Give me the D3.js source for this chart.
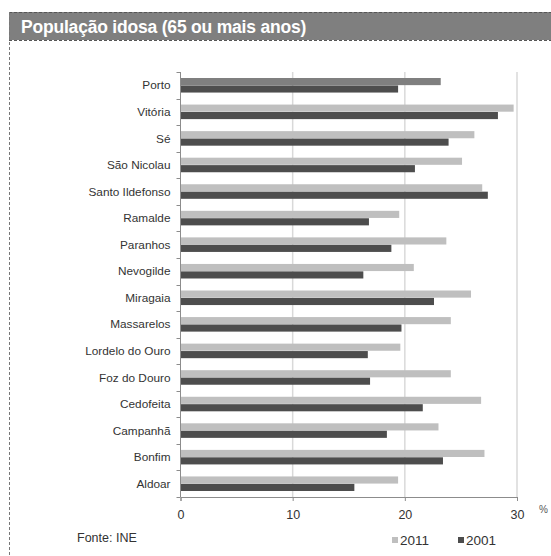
<!DOCTYPE html>
<html><head><meta charset="utf-8">
<script src="https://cdn.jsdelivr.net/npm/d3@7"></script>
<style>body{margin:0;background:#fff}svg{display:block}</style>
</head><body><svg id="c" width="551" height="556"></svg>
<script>
const categories = ["Porto","Vitória","Sé","São Nicolau","Santo Ildefonso","Ramalde","Paranhos","Nevogilde","Miragaia","Massarelos","Lordelo do Ouro","Foz do Douro","Cedofeita","Campanhã","Bonfim","Aldoar"];
const values2011 = [23.2,29.7,26.2,25.1,26.9,19.5,23.7,20.8,25.9,24.1,19.6,24.1,26.8,23.0,27.1,19.4];
const values2001 = [19.4,28.3,23.9,20.9,27.4,16.8,18.8,16.3,22.6,19.7,16.7,16.9,21.6,18.4,23.4,15.5];
const seriesNames = ["2011","2001"];
const xTicks = [0,10,20,30];

const svg = d3.select("#c");
const font = "'Liberation Sans', Arial, sans-serif";
const m = {left:180.5, right:517, top:72, bottom:497};

// frame & title bar
svg.append("rect").attr("x",9).attr("y",12).attr("width",560).attr("height",28).attr("fill","#7f7f7f");
svg.append("line").attr("x1",9).attr("x2",551).attr("y1",12.5).attr("y2",12.5).attr("stroke","#555").attr("stroke-dasharray","3,2");
svg.append("line").attr("x1",9).attr("x2",551).attr("y1",40.5).attr("y2",40.5).attr("stroke","#555").attr("stroke-dasharray","3,2");
svg.append("line").attr("x1",9.5).attr("x2",9.5).attr("y1",12).attr("y2",556).attr("stroke","#777").attr("stroke-dasharray","3,2");
svg.append("text").attr("x",21).attr("y",32.5).attr("fill","#fff").attr("font-family",font).attr("font-size",17.5).attr("font-weight","bold").attr("letter-spacing","-0.2").text("População idosa (65 ou mais anos)");

const x = d3.scaleLinear().domain([0,30]).range([m.left,m.right]);
const y = d3.scaleBand().domain(categories).range([m.top,m.bottom]).paddingInner(0.43).paddingOuter(0.215);
const ySub = d3.scaleBand().domain(seriesNames).range([0,y.bandwidth()]).padding(0.04);

// gridlines
svg.append("g").selectAll("line").data(xTicks.filter(d=>d>0)).join("line")
  .attr("x1",d=>x(d)).attr("x2",d=>x(d)).attr("y1",m.top).attr("y2",m.bottom)
  .attr("stroke","#d9d9d9").attr("stroke-width",1.5);

const color = (s,i) => s==="2001" ? "#4d4d4d" : (i===0 ? "#7f7f7f" : "#bfbfbf");
const data = categories.map((c,i)=>({c,i,v:{"2011":values2011[i],"2001":values2001[i]}}));
const g = svg.append("g");
seriesNames.forEach(s=>{
  g.selectAll(null).data(data).join("rect")
    .attr("x",x(0)).attr("y",d=>y(d.c)+ySub(s)).attr("height",ySub.bandwidth())
    .attr("width",d=>x(d.v[s])-x(0)).attr("fill",d=>color(s,d.i));
});

// y axis
const yAxis = d3.scaleBand().domain(categories).range([m.top,m.bottom]);
const ya = svg.append("g").attr("transform",`translate(${m.left},0)`);
ya.append("line").attr("x1",0).attr("x2",0).attr("y1",m.top).attr("y2",m.bottom).attr("stroke","#8c8c8c");
ya.selectAll("line.t").data(categories.concat(["__end"])).join("line").attr("class","t")
  .attr("x1",-4).attr("x2",0)
  .attr("y1",(d,i)=>Math.round(m.top+i*yAxis.step())+0.5).attr("y2",(d,i)=>Math.round(m.top+i*yAxis.step())+0.5)
  .attr("stroke","#8c8c8c");
ya.selectAll("text").data(categories).join("text")
  .attr("x",-10).attr("y",d=>yAxis(d)+yAxis.bandwidth()/2).attr("dy","0.35em")
  .attr("text-anchor","end").attr("font-family",font).attr("font-size",11.8).attr("fill","#333").text(d=>d);

// x axis
const xa = svg.append("g").attr("transform",`translate(0,${m.bottom})`)
  .call(d3.axisBottom(x).tickValues(xTicks).tickSize(4).tickPadding(9).tickFormat(d3.format("d")));
xa.select(".domain").attr("stroke","#8c8c8c");
xa.selectAll(".tick line").attr("stroke","#8c8c8c");
xa.selectAll("text").attr("font-family",font).attr("font-size",12.5).attr("fill","#333");
svg.append("text").attr("x",539).attr("y",513).attr("font-family",font).attr("font-size",10).attr("fill","#555").text("%");

// source
svg.append("text").attr("x",77).attr("y",542).attr("font-family",font).attr("font-size",12.5).attr("fill","#333").text("Fonte: INE");

// legend
const legX = [392,458];
seriesNames.forEach((s,i)=>{
  svg.append("rect").attr("x",legX[i]).attr("y",537).attr("width",6).attr("height",6).attr("fill",s==="2001"?"#4d4d4d":"#bfbfbf");
  svg.append("text").attr("x",legX[i]+8).attr("y",545).attr("font-family",font).attr("font-size",13.5).attr("fill","#333").text(s);
});
</script></body></html>
